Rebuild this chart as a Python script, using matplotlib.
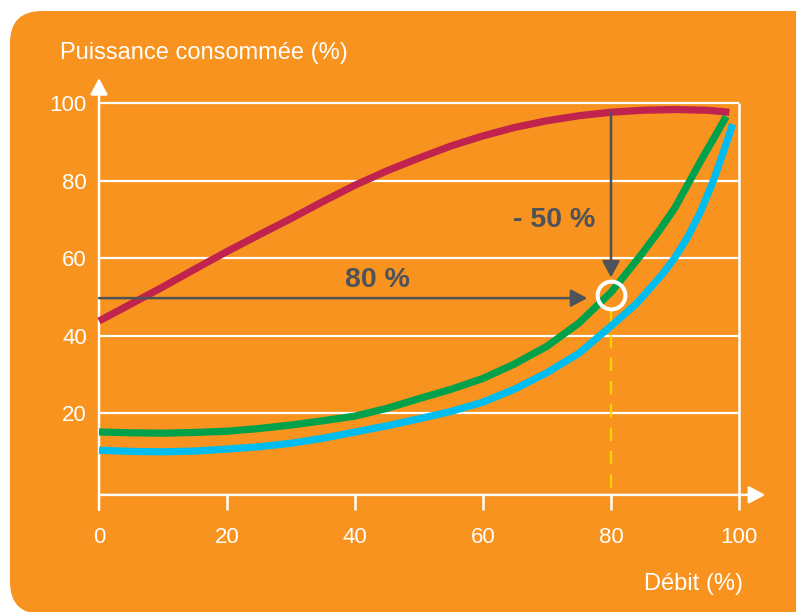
import matplotlib
matplotlib.use("Agg")
import matplotlib.pyplot as plt
from matplotlib.patches import FancyBboxPatch
from matplotlib.transforms import IdentityTransform

plt.rcParams['font.family'] = ['Liberation Sans', 'DejaVu Sans']

# ---- data ----
x_ticks = [0, 20, 40, 60, 80, 100]
y_ticks = [20, 40, 60, 80, 100]

x_red = [0, 5, 10, 15, 20, 25, 30, 35, 40, 45, 50, 55, 60, 65, 70, 75, 80, 85, 90, 95, 98.5]
y_red = [43.8, 48.2, 52.6, 57.2, 61.7, 66.0, 70.2, 74.6, 78.8, 82.5, 85.8, 88.9, 91.5,
         93.7, 95.4, 96.7, 97.6, 98.1, 98.3, 98.1, 97.6]

x_green = [0, 5, 10, 15, 20, 25, 30, 35, 40, 45, 50, 55, 60, 65, 70, 75, 80, 82.5,
           85, 87.5, 90, 92, 94, 96, 98]
y_green = [15.2, 15.0, 14.9, 15.1, 15.4, 16.1, 17.0, 18.1, 19.3, 21.3, 23.8, 26.2, 29.0,
           32.8, 37.3, 43.3, 51.2, 56.3, 61.5, 67.0, 73.0, 79.0, 85.0, 90.7, 96.5]

x_cyan = [0, 5, 10, 15, 20, 25, 30, 35, 40, 45, 50, 55, 60, 65, 70, 75, 80, 84, 88,
          90, 92, 94, 96, 98, 99]
y_cyan = [10.5, 10.2, 10.1, 10.3, 10.8, 11.4, 12.3, 13.6, 15.2, 16.8, 18.6, 20.5, 22.9,
          26.3, 30.5, 35.5, 42.5, 48.3, 55.8, 60.2, 65.5, 72.0, 80.0, 89.5, 94.5]

op_x = 80        # operating flow (%)
op_y = 50.5      # power at operating point (%)
red_at_op = 97.6

ylabel = "Puissance consommée (%)"
xlabel = "Débit (%)"
txt_flow = "80 %"
txt_gain = "- 50 %"

# ---- styles ----
ORANGE = "#F7931E"
RED = "#C1234F"
GREEN = "#00A14B"
CYAN = "#00BDF0"
GREY = "#4D5359"
YELLOW = "#FFD500"
W = "white"

W_PX, H_PX = 796, 612
fig = plt.figure(figsize=(W_PX / 100, H_PX / 100), dpi=100)
fig.patch.set_facecolor("white")

# rounded orange background (pixel coordinates)
bg = FancyBboxPatch((10, -2), 840, 603, boxstyle="round,pad=0,rounding_size=32",
                    transform=IdentityTransform(), facecolor=ORANGE, edgecolor="none",
                    zorder=-10)
fig.patches.append(bg)

ax = fig.add_axes([0, 0, 1, 1])
ax.set_zorder(1)
ax.set_facecolor("none")
ax.axis("off")
# map: x=0 -> px 99, x=100 -> px 739 ; y=100 -> px 103, y=20 -> px 413.5
sx = 6.4
sy = 3.881
x0px, y0px = 99, 491
ax.set_xlim(-x0px / sx, (W_PX - x0px) / sx)
ax.set_ylim(-(H_PX - y0px) / sy, y0px / sy)

ybase = -1.0
ybot = -4.9

# grid lines
for yv in y_ticks:
    ax.plot([0, 100], [yv, yv], color=W, lw=1.6, zorder=1, solid_capstyle="butt")
# right frame line
ax.plot([100, 100], [ybot, 100], color=W, lw=1.8, zorder=1, solid_capstyle="butt")
# x ticks
for xv in x_ticks[1:-1]:
    ax.plot([xv, xv], [ybase, ybot], color=W, lw=1.8, zorder=1, solid_capstyle="butt")

# axes with arrows
arrow_style = "-|>,head_length=0.45,head_width=0.24"
ax.annotate("", xy=(104.1, ybase), xytext=(0, ybase),
            arrowprops=dict(arrowstyle=arrow_style, color=W, lw=1.8,
                            mutation_scale=22, shrinkA=0, shrinkB=0), zorder=2)
ax.annotate("", xy=(0, 106.4), xytext=(0, ybot),
            arrowprops=dict(arrowstyle=arrow_style, color=W, lw=1.8,
                            mutation_scale=22, shrinkA=0, shrinkB=0), zorder=2)

# tick labels
for xv in x_ticks:
    ax.text(xv, -11.3, str(xv), color=W, fontsize=16, ha="center", va="center_baseline")
for yv in y_ticks:
    ax.text(-1.9, yv, str(yv), color=W, fontsize=16, ha="right", va="center_baseline")

ax.text(-6.1, 113.6, ylabel, color=W, fontsize=17, ha="left", va="center_baseline")
ax.text(100.6, -23.4, xlabel, color=W, fontsize=17, ha="right", va="center_baseline")

# yellow dashed line
ax.plot([op_x, op_x], [op_y - 4, ybase], color=YELLOW, lw=1.6,
        dashes=(6, 4.5), zorder=3)

# curves
kw = dict(lw=5.2, solid_capstyle="butt", solid_joinstyle="round")
ax.plot(x_red, y_red, color=RED, zorder=4, **kw)
ax.plot(x_cyan, y_cyan, color=CYAN, zorder=4, **kw)
ax.plot(x_green, y_green, color=GREEN, zorder=5, **kw)

# annotation arrows
ann_style = "-|>,head_length=0.45,head_width=0.24"
ax.annotate("", xy=(op_x - 3.7, op_y - 0.8), xytext=(0, op_y - 0.8),
            arrowprops=dict(arrowstyle=ann_style, color=GREY, lw=1.8,
                            mutation_scale=22, shrinkA=0, shrinkB=0), zorder=6)
ax.annotate("", xy=(op_x, op_y + 4.5), xytext=(op_x, red_at_op),
            arrowprops=dict(arrowstyle=ann_style, color=GREY, lw=1.8,
                            mutation_scale=22, shrinkA=0, shrinkB=0), zorder=6)

# operating point circle
ax.plot([op_x], [op_y], marker="o", markersize=20, mfc="none", mec=W, mew=2.9, zorder=7)

ax.text(43.5, 55.2, txt_flow, color=GREY, fontsize=20.5, fontweight="bold",
        ha="center", va="center_baseline")
ax.text(77.5, 70.6, txt_gain, color=GREY, fontsize=20.5, fontweight="bold",
        ha="right", va="center_baseline")

fig.savefig("out.png", dpi=100, facecolor=fig.get_facecolor())
